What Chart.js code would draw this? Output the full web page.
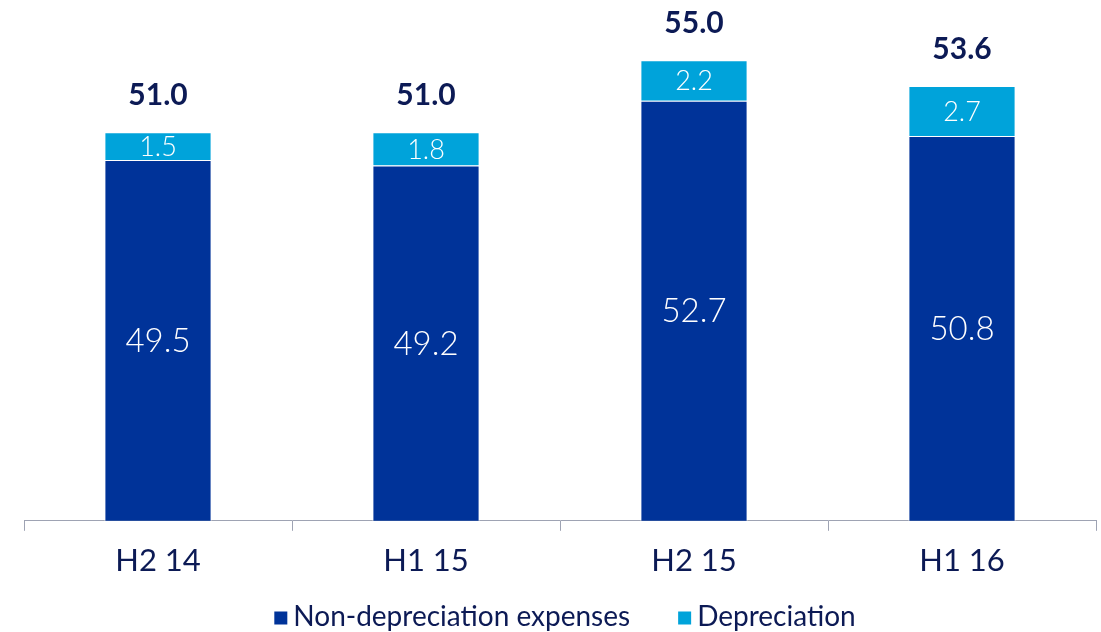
<!DOCTYPE html>
<html>
<head>
<meta charset="utf-8">
<script src="https://cdn.jsdelivr.net/npm/chart.js@4.4.1/dist/chart.umd.min.js"></script>
<style>
  html, body { margin: 0; padding: 0; background: #fff; }
  #wrap { width: 1101px; height: 632px; position: relative; }
</style>
</head>
<body>
<div id="wrap"><canvas id="costChart"></canvas></div>
<script>
// ============ 费用构成 ============
const PERIODS = ['H2 14', 'H1 15', 'H2 15', 'H1 16'];
const NON_DEPRECIATION = [49.5, 49.2, 52.7, 50.8];
const DEPRECIATION = [1.5, 1.8, 2.2, 2.7];
const TOTALS = [51.0, 51.0, 55.0, 53.6];

const NAVY = '#0c1a55';
const DARK_BLUE = '#003399';
const LIGHT_BLUE = '#00a3da';
const FONT = 'Lato, "Open Sans", sans-serif';

// value labels inside the segments + totals above each column
const barLabels = {
  id: 'barLabels',
  afterDatasetsDraw(chart) {
    const ctx = chart.ctx;
    const bottom = chart.chartArea.bottom;
    ctx.save();
    ctx.textAlign = 'center';
    ctx.textBaseline = 'middle';
    chart.data.datasets.forEach((ds, di) => {
      const meta = chart.getDatasetMeta(di);
      meta.data.forEach((bar, i) => {
        const mid = (bar.y + Math.min(bar.base, bottom)) / 2;
        ctx.fillStyle = '#fff';
        ctx.font = (di === 0 ? '300 33px ' : '300 27px ') + FONT;
        ctx.fillText(ds.data[i].toFixed(1), bar.x, mid + 1);
      });
    });
    const top = chart.getDatasetMeta(chart.data.datasets.length - 1);
    ctx.fillStyle = NAVY;
    ctx.font = 'bold 30px ' + FONT;
    top.data.forEach((bar, i) => {
      ctx.fillText(TOTALS[i].toFixed(1), bar.x, bar.y - 37);
    });
    ctx.restore();
  }
};

// legend row under the axis: square swatch + series name
const bottomLegend = {
  id: 'bottomLegend',
  afterDraw(chart) {
    const ctx = chart.ctx;
    const box = 13, textGap = 6, itemGap = 48, y = 617;
    ctx.save();
    ctx.font = '28px ' + FONT;
    ctx.textBaseline = 'middle';
    ctx.textAlign = 'left';
    const items = chart.data.datasets.map(ds => ({
      label: ds.label, color: ds.backgroundColor, w: ctx.measureText(ds.label).width
    }));
    const total = items.reduce((s, it) => s + box + textGap + it.w, 0) + itemGap * (items.length - 1);
    let x = 565 - total / 2;
    items.forEach(it => {
      ctx.fillStyle = it.color;
      ctx.fillRect(x, y - box / 2 + 1, box, box);
      ctx.fillStyle = NAVY;
      ctx.fillText(it.label, x + box + textGap, y);
      x += box + textGap + it.w + itemGap;
    });
    ctx.restore();
  }
};

new Chart(document.getElementById('costChart').getContext('2d'), {
  type: 'bar',
  data: {
    labels: PERIODS,
    datasets: [
      {label: 'Non-depreciation expenses', data: NON_DEPRECIATION, backgroundColor: DARK_BLUE,
       borderColor: '#fff', borderWidth: 1, barPercentage: 0.4, categoryPercentage: 1},
      {label: 'Depreciation', data: DEPRECIATION, backgroundColor: LIGHT_BLUE,
       borderColor: '#fff', borderWidth: 1, barPercentage: 0.4, categoryPercentage: 1}
    ]
  },
  options: {
    responsive: true, maintainAspectRatio: false, animation: false,
    layout: {padding: {left: 24, right: 5, top: 0, bottom: 40}},
    plugins: {
      tooltip: {enabled: false},
      legend: {display: false}
    },
    scales: {
      x: {
        stacked: true,
        grid: {display: true, drawOnChartArea: false, drawTicks: true, tickLength: 10, color: '#9ea3b3', offset: true},
        border: {display: true, color: '#9ea3b3'},
        ticks: {color: NAVY, font: {family: FONT, size: 31}, padding: 12}
      },
      y: {
        stacked: true, display: false, min: 30, max: 58.15
      }
    }
  },
  plugins: [barLabels, bottomLegend]
});
</script>
</body>
</html>
